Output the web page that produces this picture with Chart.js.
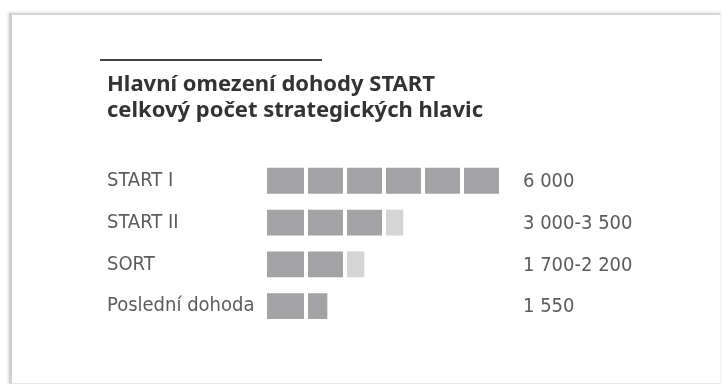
<!DOCTYPE html>
<html>
<head>
<meta charset="utf-8">
<script src="https://cdn.jsdelivr.net/npm/chart.js@4.4.1/dist/chart.umd.min.js"></script>
<style>
  html, body { margin: 0; padding: 0; background: #fff; }
  body { width: 722px; height: 385px; position: relative; overflow: hidden; }
  .card {
    position: absolute; left: 9px; top: 13px; width: 708px; height: 368px;
    border-left: 3px solid #cfcfcf; border-top: 2px solid #d6d6d6;
    border-right: 1px solid #f0f0f0; border-bottom: 1px solid #e8e8e8;
    box-shadow: -1px -1px 2px rgba(0,0,0,0.12);
  }
  .rule { position: absolute; left: 100px; top: 59px; width: 222px; height: 2px; background: #444; }
  #wrap { position: absolute; left: 0; top: 0; width: 722px; height: 385px; }
</style>
</head>
<body>
<div class="card"></div>
<div class="rule"></div>
<div id="wrap"><canvas id="chart"></canvas></div>
<script>
const categories = ['START I', 'START II', 'SORT', 'Poslední dohoda'];
const fixedLimit = [6000, 3000, 2000, 1550];   // dark blocks
const rangeExtra = [0, 500, 500, 0];           // light part of the range
const valueLabels = ['6 000', '3 000-3 500', '1 700-2 200', '1 550'];
const blockTicks = [1000, 2000, 3000, 4000, 5000, 6000];  // white cuts between blocks
const titleLines = ['Hlavní omezení dohody START', 'celkový počet strategických hlavic'];

const labelFont = '"DejaVu Sans Condensed", "Liberation Sans Narrow", sans-serif';

// value text to the right of the bars
const valueLabelPlugin = {
  id: 'valueLabels',
  afterDraw(chart) {
    const { ctx, chartArea } = chart;
    const yScale = chart.scales.y;
    ctx.save();
    ctx.font = '20px ' + labelFont;
    ctx.fillStyle = '#5c5c5c';
    ctx.textAlign = 'left';
    ctx.textBaseline = 'middle';
    valueLabels.forEach((txt, i) => {
      ctx.fillText(txt, chartArea.right + 3, yScale.getPixelForValue(i) + 1);
    });
    ctx.restore();
  }
};

new Chart(document.getElementById('chart'), {
  type: 'bar',
  data: {
    labels: categories,
    datasets: [
      {
        label: 'limit',
        data: fixedLimit,
        backgroundColor: '#a3a3a5',
        borderWidth: 0,
        barPercentage: 0.62,
        categoryPercentage: 1
      },
      {
        label: 'rozsah',
        data: rangeExtra,
        backgroundColor: '#d5d5d5',
        borderWidth: 0,
        barPercentage: 0.62,
        categoryPercentage: 1
      }
    ]
  },
  options: {
    indexAxis: 'y',
    responsive: true,
    maintainAspectRatio: false,
    animation: false,
    layout: { padding: { left: 107, right: 202, top: 0, bottom: 58 } },
    scales: {
      x: {
        stacked: true,
        min: 0,
        max: 6500,
        border: { display: false },
        ticks: { display: false },
        afterBuildTicks: scale => { scale.ticks = blockTicks.map(v => ({ value: v })); },
        grid: {
          z: 1,
          drawTicks: false,
          lineWidth: 4,
          color: '#ffffff'
        }
      },
      y: {
        stacked: true,
        border: { display: false },
        grid: { display: false, drawTicks: false },
        afterFit: scale => { scale.width = 160; },
        ticks: {
          crossAlign: 'far',
          padding: 0,
          color: '#5c5c5c',
          font: { family: labelFont, size: 20 }
        }
      }
    },
    plugins: {
      legend: { display: false },
      tooltip: { enabled: false },
      title: {
        display: true,
        text: titleLines,
        align: 'start',
        color: '#333333',
        font: { family: '"Noto Sans", sans-serif', size: 22, weight: 'bold', lineHeight: 1.18 },
        padding: { top: 72, bottom: 36 }
      }
    }
  },
  plugins: [valueLabelPlugin]
});
</script>
</body>
</html>
